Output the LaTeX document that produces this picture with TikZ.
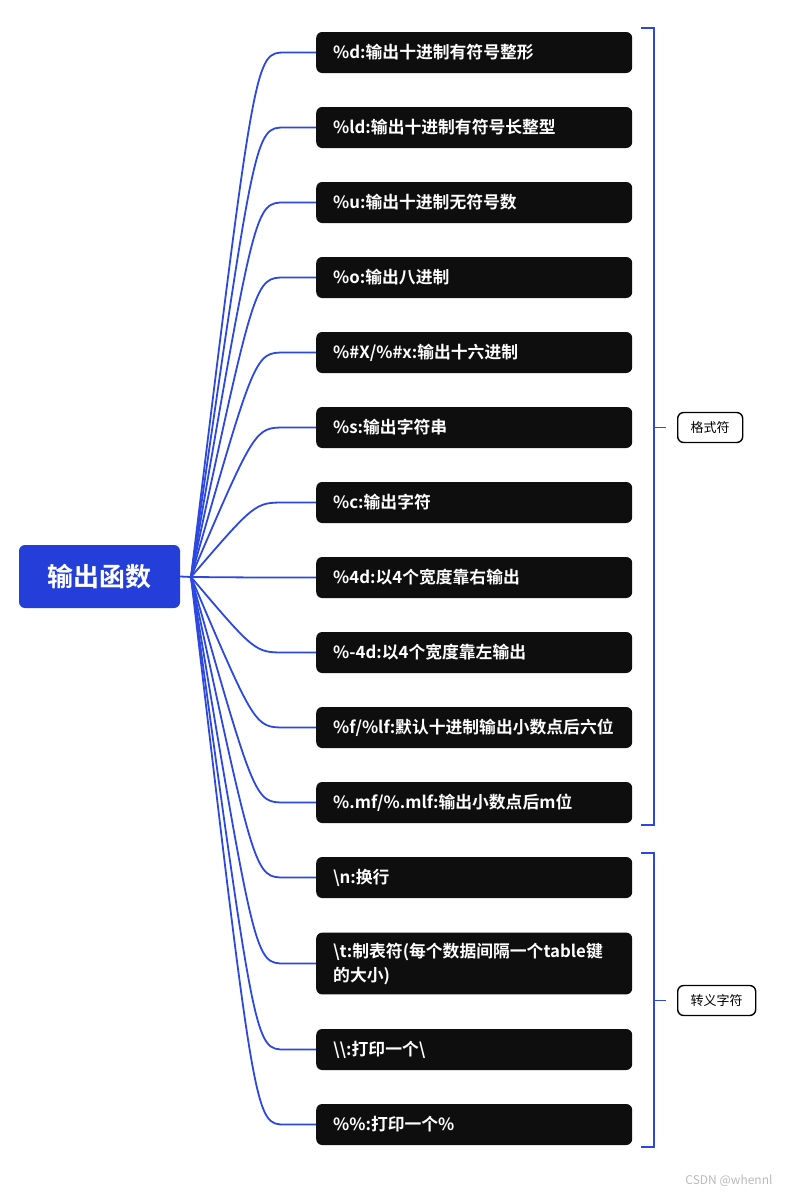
\documentclass[tikz,border=0pt]{standalone}
\usepackage{fontspec}
\setmainfont{Noto Sans CJK SC}[BoldFont={Noto Sans CJK SC Bold}]
\usetikzlibrary{positioning,calc}
\definecolor{mindblue}{RGB}{36,62,218}
\definecolor{linkblue}{RGB}{44,72,222}
\definecolor{leafblack}{RGB}{14,14,14}
\definecolor{markgray}{RGB}{185,185,185}

\begin{document}
\begin{tikzpicture}[x=1pt, y=-1pt,
    root/.style={fill=mindblue, rounded corners=6pt, minimum width=161pt, minimum height=63pt,
      text=white, font=\fontsize{26}{30}\selectfont\bfseries},
    leaf/.style={fill=leafblack, rounded corners=6pt, anchor=west, text width=282pt, inner xsep=17pt,
      inner ysep=10pt, minimum height=41pt, align=left, text=white,
      font=\fontsize{16.8}{24}\selectfont\bfseries},
    tag/.style={draw=black, line width=1.4pt, rounded corners=6pt, anchor=west, minimum height=30pt,
      inner xsep=13pt, font=\fontsize{13}{15}\selectfont},
    link/.style={linkblue, line width=1.8pt},
  ]
  \useasboundingbox (0,0) rectangle (786,1194);

  % root
  \node[root] (root) at (99.5,576.5) {输出函数};
  \coordinate (hub) at (191,577);

  % leaves
  \node[leaf] (leaf1) at (316,52.5) {\%d:输出十进制有符号整形};
  \node[leaf] (leaf2) at (316,127.5) {\%ld:输出十进制有符号长整型};
  \node[leaf] (leaf3) at (316,202.5) {\%u:输出十进制无符号数};
  \node[leaf] (leaf4) at (316,277.5) {\%o:输出八进制};
  \node[leaf] (leaf5) at (316,352.5) {\%\#X/\%\#x:输出十六进制};
  \node[leaf] (leaf6) at (316,427.5) {\%s:输出字符串};
  \node[leaf] (leaf7) at (316,502.5) {\%c:输出字符};
  \node[leaf] (leaf8) at (316,577.5) {\%4d:以4个宽度靠右输出};
  \node[leaf] (leaf9) at (316,652.5) {\%-4d:以4个宽度靠左输出};
  \node[leaf] (leaf10) at (316,727.5) {\%f/\%lf:默认十进制输出小数点后六位};
  \node[leaf] (leaf11) at (316,802.5) {\%.mf/\%.mlf:输出小数点后m位};
  \node[leaf] (leaf12) at (316,877.5) {\textbackslash n:换行};
  \node[leaf] (leaf13) at (316,963.5) {\textbackslash t:制表符(每个数据间隔一个table键\\的大小)};
  \node[leaf] (leaf14) at (316,1049.5) {\textbackslash\textbackslash:打印一个\textbackslash};
  \node[leaf] (leaf15) at (316,1124.5) {\%\%:打印一个\%};

  \draw[link] (root.east) -- (hub);
  \foreach \i in {1,...,15} {
    \draw[link] (hub) .. controls ($(leaf\i.west)+(-61,0)$) .. ($(leaf\i.west)+(-31,0)$) -- (leaf\i.west);
  }

  % brackets
  \node[tag] (fmt) at (677,427.5) {格式符};
  \node[tag] (esc) at (677,1000.5) {转义字符};
  \coordinate (fmttop) at (641,28);
  \coordinate (fmtbot) at (641,825);
  \coordinate (fmtmid) at (654,427.5);
  \coordinate (esctop) at (641,853);
  \coordinate (escbot) at (641,1147);
  \coordinate (escmid) at (654,1000.5);
  \draw[link] (fmttop) -- ++(13,0) |- (fmtbot);
  \draw[link] (fmtmid) -- ($(fmt.west)+(-11,0)$);
  \draw[link] (esctop) -- ++(13,0) |- (escbot);
  \draw[link] (escmid) -- ($(esc.west)+(-11,0)$);

  \node[markgray, font=\fontsize{12}{14}\selectfont] (mark) at (729,1181) {CSDN @whennl};
\end{tikzpicture}
\end{document}
